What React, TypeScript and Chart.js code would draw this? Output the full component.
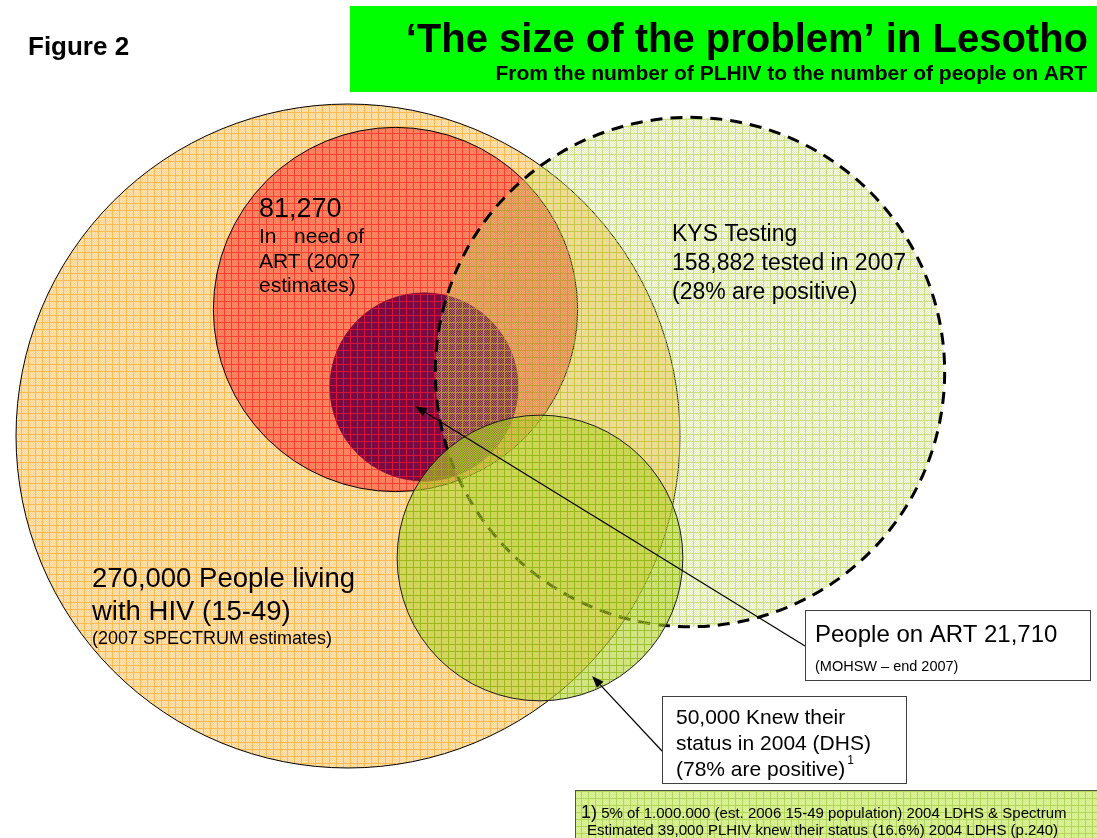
import React, { useEffect, useRef } from 'react';
import { Chart, registerables } from 'chart.js';

Chart.register(...registerables);

// ---- Data ----
const categories = [
  'People living with HIV (15-49)',
  'In need of ART',
  'People on ART',
  'KYS tested in 2007',
  'Knew their status in 2004 (DHS)',
];
const peopleCounts = [270000, 81270, 21710, 158882, 50000];
// circle centres in diagram units
const circleCentreX = [348, 395.5, 424, 690, 540];
const circleCentreY = [436, 309.5, 387, 372, 558];
// diagram units of radius per sqrt(person) => circle area proportional to count
const RADIUS_PER_SQRT_PERSON = 0.6389;

const titleText = '\u2018The size of the problem\u2019 in Lesotho';
const subtitleText = 'From the number of PLHIV to the number of people on ART';
const figureLabel = 'Figure 2';
const needLabels = ['81,270', 'In   need of', 'ART (2007', 'estimates)'];
const kysLabels = ['KYS Testing', '158,882 tested in 2007', '(28% are positive)'];
const plhivLabels = ['270,000 People living', 'with HIV (15-49)', '(2007 SPECTRUM estimates)'];
const artBoxLabels = ['People on ART 21,710', '(MOHSW \u2013 end 2007)'];
const dhsBoxLabels = ['50,000 Knew their', 'status in 2004 (DHS)', '(78% are positive)'];
const footnoteLines = ['5% of 1.000.000 (est. 2006 15-49 population) 2004 LDHS & Spectrum', 'Estimated 39,000 PLHIV knew their status (16.6%) 2004 LDHS (p.240)'];

const FONT = '"Liberation Sans", Arial, Helvetica, sans-serif';

function makePattern(base: string | null, dither: string | null, line: string, cell = 7): CanvasPattern | string {
  const c = document.createElement('canvas');
  c.width = cell;
  c.height = cell;
  const g = c.getContext('2d')!;
  if (base) {
    g.fillStyle = base;
    g.fillRect(0, 0, cell, cell);
  }
  if (dither) {
    g.fillStyle = dither;
    for (let y = 1; y < cell; y++) {
      for (let x = 1; x < cell; x++) {
        if ((x + y) % 2 === 0) g.fillRect(x, y, 1, 1);
      }
    }
  }
  g.fillStyle = line;
  g.fillRect(0, 0, cell, 1);
  g.fillRect(0, 1, 1, cell - 1);
  const p = g.createPattern(c, 'repeat');
  return p || (base as string);
}

export default function App() {
  const canvasRef = useRef<HTMLCanvasElement | null>(null);

  useEffect(() => {
    document.body.style.margin = '0';
    const canvas = canvasRef.current;
    if (!canvas) return;

    const fills = [
      makePattern('#ffd594', '#ffe4b6', '#ffbb52'),
      makePattern('#ff7a58', '#ff8866', '#ff4030'),
      makePattern('#760840', '#7e0c44', '#d81238'),
      makePattern('rgba(214,234,140,0.12)', 'rgba(196,222,110,0.45)', 'rgba(168,204,56,0.6)'),
      makePattern('rgba(176,208,40,0.55)', 'rgba(200,222,80,0.25)', 'rgba(136,176,16,0.7)'),
    ];
    const borderColors = ['#000000', '#000000', 'rgba(110,0,50,0.6)', '#000000', '#1a1a1a'];
    const borderWidths = [1, 1, 1, 3, 1];
    const dashes: (number[] | null)[] = [null, null, null, [12, 8], null];
    const drawOrder = [5, 4, 3, 2, 1];
    const footFill = makePattern('#d2ec86', '#dcf29c', '#b2d65c');

    const radiusFor = (ctx: any) => {
      const sx = ctx.chart.scales.x;
      const v = peopleCounts[ctx.datasetIndex];
      const r = Math.abs(sx.getPixelForValue(RADIUS_PER_SQRT_PERSON * Math.sqrt(v)) - sx.getPixelForValue(0));
      return isFinite(r) ? r : 0;
    };

    const datasets = categories.map((label, i) => ({
      label,
      data: [{ x: circleCentreX[i], y: circleCentreY[i] }],
      showLine: false,
      pointBackgroundColor: fills[i] as any,
      pointBorderColor: borderColors[i],
      pointBorderWidth: borderWidths[i],
      pointRadius: radiusFor,
      pointHoverRadius: radiusFor,
      pointHitRadius: 0,
      order: drawOrder[i],
      clip: false as any,
    }));

    const dashPlugin = {
      id: 'circleDash',
      beforeDatasetDraw(chart: any, args: any) {
        const d = dashes[args.index];
        chart.ctx.save();
        if (d) chart.ctx.setLineDash(d);
      },
      afterDatasetDraw(chart: any) {
        chart.ctx.restore();
      },
    };

    const annotationPlugin = {
      id: 'annotations',
      afterDraw(chart: any) {
        const ctx: CanvasRenderingContext2D = chart.ctx;
        const sx = chart.scales.x;
        const sy = chart.scales.y;
        const px = (v: number) => sx.getPixelForValue(v);
        const py = (v: number) => sy.getPixelForValue(v);
        const text = (s: string, x: number, y: number, size: number, bold = false, align: CanvasTextAlign = 'left') => {
          ctx.font = `${bold ? 'bold ' : ''}${size}px ${FONT}`;
          ctx.textAlign = align;
          ctx.textBaseline = 'alphabetic';
          ctx.fillStyle = '#000';
          ctx.fillText(s, px(x), py(y));
          return ctx.measureText(s).width;
        };
        const arrow = (x1: number, y1: number, x2: number, y2: number) => {
          const ax = px(x1), ay = py(y1), bx = px(x2), by = py(y2);
          const ang = Math.atan2(by - ay, bx - ax);
          ctx.save();
          ctx.strokeStyle = '#000';
          ctx.lineWidth = 1.2;
          ctx.beginPath();
          ctx.moveTo(ax, ay);
          ctx.lineTo(bx - Math.cos(ang) * 6, by - Math.sin(ang) * 6);
          ctx.stroke();
          ctx.fillStyle = '#000';
          ctx.beginPath();
          ctx.moveTo(bx, by);
          ctx.lineTo(bx - Math.cos(ang) * 12 + Math.sin(ang) * 4.5, by - Math.sin(ang) * 12 - Math.cos(ang) * 4.5);
          ctx.lineTo(bx - Math.cos(ang) * 12 - Math.sin(ang) * 4.5, by - Math.sin(ang) * 12 + Math.cos(ang) * 4.5);
          ctx.closePath();
          ctx.fill();
          ctx.restore();
        };
        const box = (x1: number, y1: number, x2: number, y2: number, fill: any, stroke: string) => {
          ctx.save();
          ctx.fillStyle = fill;
          ctx.fillRect(px(x1), py(y1), px(x2) - px(x1), py(y2) - py(y1));
          ctx.strokeStyle = stroke;
          ctx.lineWidth = 1;
          ctx.strokeRect(Math.round(px(x1)) + 0.5, Math.round(py(y1)) + 0.5, Math.round(px(x2) - px(x1)), Math.round(py(y2) - py(y1)));
          ctx.restore();
        };

        ctx.save();
        // title block
        ctx.fillStyle = '#00ff00';
        ctx.fillRect(px(350), py(6), px(1097) - px(350), py(92) - py(6));
        text(titleText, 1088, 52, 40, true, 'right');
        text(subtitleText, 1087, 80, 21, true, 'right');
        text(figureLabel, 28, 55, 26, true);

        // circle labels
        text(needLabels[0], 259, 217, 27);
        text(needLabels[1], 259, 243, 21);
        text(needLabels[2], 259, 268, 21);
        text(needLabels[3], 259, 292, 21);

        text(kysLabels[0], 672, 241, 23);
        text(kysLabels[1], 672, 270, 23);
        text(kysLabels[2], 672, 299, 23);

        text(plhivLabels[0], 92, 587, 27.5);
        text(plhivLabels[1], 92, 620, 27.5);
        text(plhivLabels[2], 92, 644, 18);

        // arrows
        arrow(805, 646, 415, 406);
        arrow(662, 751, 592, 676);

        // callout boxes
        box(805, 610, 1090, 680, '#ffffff', '#404040');
        text(artBoxLabels[0], 815, 642, 24);
        text(artBoxLabels[1], 815, 671, 14.5);

        box(662, 696, 906, 783, '#ffffff', '#404040');
        text(dhsBoxLabels[0], 676, 724, 21);
        text(dhsBoxLabels[1], 676, 750, 21);
        const w = text(dhsBoxLabels[2], 676, 776, 21);
        text('1', 676 + w + 2, 764, 12);

        box(575, 790, 1100, 842, footFill, '#505050');
        const w1 = text('1)', 581, 818, 18);
        text(' ' + footnoteLines[0], 581 + w1, 818, 15);
        text(footnoteLines[1], 587, 835, 15);
        ctx.restore();
      },
    };

    const chart = new Chart(canvas, {
      type: 'scatter',
      data: { datasets: datasets as any },
      options: {
        responsive: false,
        animation: false,
        events: [],
        layout: { padding: 0 },
        scales: {
          x: { type: 'linear', min: 0, max: 1097, display: false },
          y: { type: 'linear', min: 0, max: 838, reverse: true, display: false },
        },
        plugins: {
          legend: { display: false },
          tooltip: { enabled: false },
          title: { display: false },
        },
      },
      plugins: [dashPlugin, annotationPlugin],
    });

    return () => chart.destroy();
  }, []);

  return (
    <div style={{ width: 1097, height: 838, position: 'relative', background: '#fff' }}>
      <canvas ref={canvasRef} width={1097} height={838} style={{ display: 'block' }} />
    </div>
  );
}
